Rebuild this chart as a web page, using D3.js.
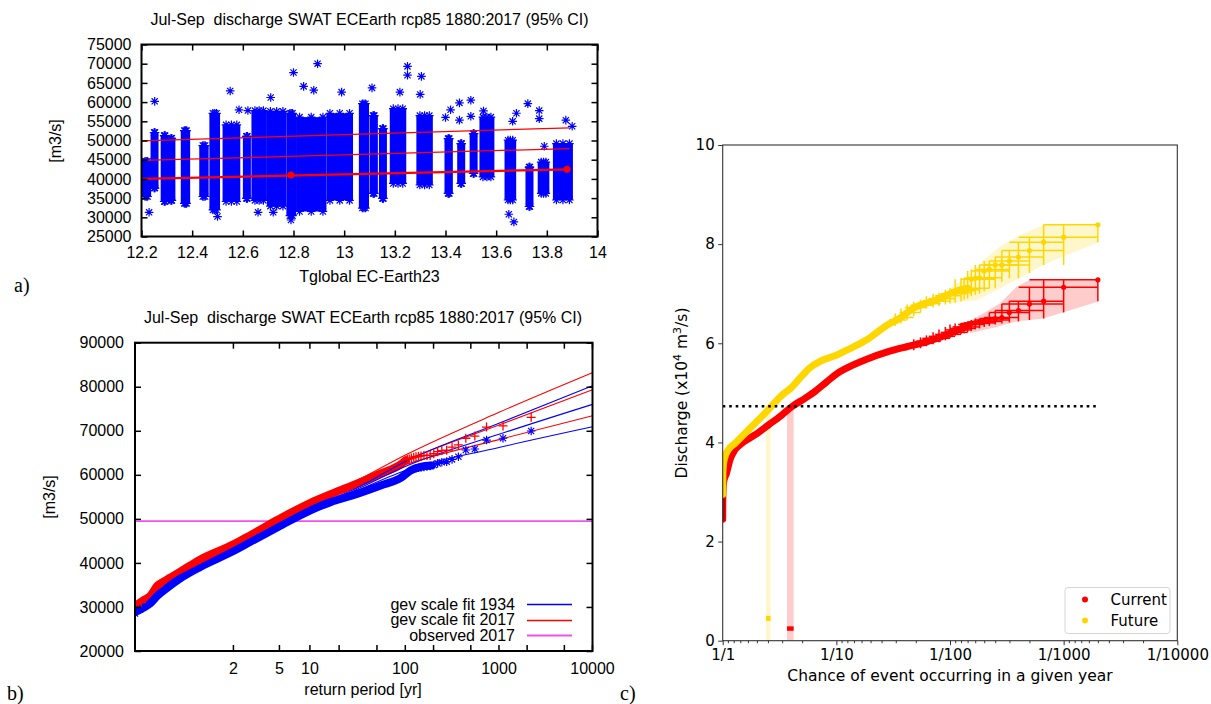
<!DOCTYPE html>
<html>
<head>
<meta charset="utf-8">
<script src="https://cdn.jsdelivr.net/npm/d3@7"></script>
<style>
  body { margin: 0; background: #fff; }
  svg text { font-family: "Liberation Sans", Arial, sans-serif; fill: #000; white-space: pre; }
</style>
</head>
<body>
<svg id="fig" width="1211" height="704"></svg>
<script>
// ---------------- panel a data (Tglobal vs discharge) ----------------
// dense columns of points: [t from, t to, lowest, highest]
const scatterCols = [
  [12.200, 12.238, 34500, 45500], [12.245, 12.258, 36700, 53000],
  [12.283, 12.300, 33200, 52200], [12.310, 12.326, 33500, 51500],
  [12.355, 12.392, 32700, 53500], [12.428, 12.465, 34500, 49600],
  [12.468, 12.510, 31000, 58000], [12.520, 12.590, 33200, 55000],
  [12.602, 12.630, 34000, 52000], [12.634, 12.695, 33500, 58700],
  [12.695, 12.772, 32000, 58500], [12.772, 12.810, 29500, 58000],
  [12.810, 12.930, 30600, 57000], [12.930, 13.035, 33500, 58000],
  [13.058, 13.098, 31500, 60500], [13.100, 13.133, 35300, 57400],
  [13.140, 13.166, 34000, 54000], [13.180, 13.245, 37900, 59200],
  [13.285, 13.350, 37500, 57400], [13.396, 13.429, 35300, 51400],
  [13.449, 13.475, 37900, 50100], [13.501, 13.521, 40500, 52700],
  [13.534, 13.593, 39600, 57000], [13.633, 13.679, 33600, 51000],
  [13.718, 13.745, 31900, 44000], [13.764, 13.810, 35300, 45300],
  [13.824, 13.903, 33600, 50100]
];
// single points outside the dense columns: [t, discharge]
const scatterOutliers = [
  [12.23, 31300], [12.252, 60200], [12.50, 30200], [12.55, 62900], [12.585, 58000],
  [12.62, 57800], [12.71, 61200], [12.66, 31300], [12.72, 31300], [12.80, 67700],
  [12.79, 29300], [12.84, 64100], [12.895, 70000], [12.88, 63100], [12.99, 62600],
  [13.11, 63700], [13.25, 69300], [13.25, 67000], [13.22, 62600], [13.305, 66700],
  [13.30, 62000], [13.40, 56000], [13.42, 58000], [13.455, 59800], [13.455, 55300],
  [13.50, 60500], [13.50, 56300], [13.55, 57700], [13.65, 30800], [13.67, 28800],
  [13.665, 55000], [13.68, 57100], [13.725, 59600], [13.77, 57800], [13.77, 55700],
  [13.79, 48500], [13.875, 55300], [13.90, 53700]
];
const trendUpper = [[12.2, 49900], [13.89, 53300]];
const trendMid = [[12.2, 44800], [13.89, 47900]];
const trendLow = [[12.2, 40000], [13.89, 42500]];
const trendLowDots = [[12.79, 41000], [13.88, 42500]];

// ---------------- panel b data (return period plot) ----------------
const band2017 = [[1.0004, 30200], [1.0017, 31500], [1.0046, 32500], [1.011, 34800], [1.025, 36000],
  [1.083, 38000], [1.264, 40800], [2, 44200], [2.73, 46300], [4.9, 49900], [10, 53600],
  [16.3, 55600], [26.4, 57400], [54.9, 60300], [89.5, 62400], [101, 63300]];
const band1934 = [[1.0004, 28800], [1.0017, 29800], [1.0046, 30800], [1.011, 32500], [1.025, 34000],
  [1.083, 36500], [1.264, 39100], [2, 42700], [2.73, 44800], [4.9, 48200], [10, 51900],
  [16.3, 53800], [26.4, 55200], [54.9, 57600], [89.5, 59300], [114, 61000], [146, 61800], [190, 62100]];
const tail2017 = [[2208, 73050], [1104, 71100], [736, 70850], [552, 68800], [442, 68300], [368, 66800],
  [315, 66300], [276, 65600], [245, 65500], [221, 65250], [201, 64800], [184, 64400], [170, 64400],
  [158, 64400], [147, 64300], [138, 64200], [130, 64100], [123, 64000], [116, 63800], [110, 63600], [105, 63500],
  [1.0004, 30000], [1.0012, 31000]];
const tail1934 = [[2208, 69950], [1104, 68300], [736, 67900], [552, 65870], [442, 65640], [368, 64100],
  [315, 63500], [276, 63000], [245, 62840], [221, 62600], [201, 62230], [184, 62000], [170, 61900],
  [158, 61800], [147, 61700], [138, 61600], [130, 61500], [1.0004, 28500], [1.001, 29400]];
const fitT = [1.05, 2, 10, 30, 100, 1000, 10000];
const fit1934 = [35500, 42500, 52000, 56600, 61900, 69200, 76000];
const fit1934Hi = [35700, 42700, 52400, 56900, 63000, 71700, 80200];
const fit1934Lo = [35300, 42300, 51600, 56300, 61000, 66200, 70900];
const fit2017 = [37000, 44000, 53500, 58300, 63300, 71300, 79300];
const fit2017Hi = [37200, 44200, 54000, 58600, 64500, 74200, 83200];
const fit2017Lo = [36800, 43800, 53000, 58000, 62300, 68000, 73400];
const observed2017 = 49500;
const periodTicks = [2, 5, 10, 20, 50, 100, 200, 500, 1000, 2000, 5000, 10000];
const periodLabels = [2, 5, 10, 100, 1000, 10000];

// ---------------- panel c data (chance of event, x1e4 m3/s) ----------------
const currentCurve = [[1.0, 2.45], [1.003, 2.9], [1.02, 3.2], [1.08, 3.38], [1.16, 3.65], [1.28, 3.85],
  [1.47, 3.98], [1.92, 4.15], [2.52, 4.35], [3.3, 4.55], [4.05, 4.72], [5.3, 4.89], [6.5, 5.03],
  [8.2, 5.22], [10, 5.38], [12.3, 5.5], [18.5, 5.68], [27.7, 5.82], [41.5, 5.93], [62, 6.03],
  [82, 6.12], [110, 6.24], [143, 6.35]];
const futureCurve = [[1.0, 2.95], [1.004, 3.4], [1.03, 3.65], [1.12, 3.85], [1.28, 3.98], [1.68, 4.25],
  [2.36, 4.59], [3.31, 4.95], [4.0, 5.1], [4.8, 5.3], [5.8, 5.5], [7, 5.62], [8.2, 5.69], [10, 5.76],
  [12.3, 5.86], [18.5, 6.07], [27.7, 6.36], [36, 6.5], [47, 6.7], [55, 6.77], [71, 6.85], [100, 7.0],
  [125, 7.08], [143, 7.11]];
// tail points: [return period, value, value low, value high, period low, period high]
const currentTail = [
  [2000, 7.28, 6.85, 7.28, 500, 2000], [1000, 7.13, 6.62, 7.28, 402, 2000],
  [667, 6.85, 6.50, 7.28, 333, 1000], [500, 6.79, 6.47, 7.13, 286, 1000],
  [400, 6.66, 6.44, 6.85, 250, 667], [333, 6.62, 6.42, 6.85, 222, 500],
  [286, 6.52, 6.40, 6.79, 200, 400], [250, 6.50, 6.38, 6.66, 182, 333],
  [222, 6.47, 6.35, 6.62, 167, 333], [200, 6.44, 6.33, 6.52, 154, 286],
  [182, 6.43, 6.30, 6.50, 143, 250], [167, 6.41, 6.28, 6.50, 133, 250],
  [154, 6.40, 6.25, 6.47, 125, 222], [143, 6.38, 6.22, 6.44, 118, 200],
  [133, 6.33, 6.20, 6.42, 105, 182], [125, 6.30, 6.18, 6.41, 100, 167],
  [111, 6.27, 6.15, 6.40, 91, 154], [100, 6.22, 6.10, 6.38, 83, 143],
  [91, 6.18, 6.06, 6.33, 74, 125], [80, 6.14, 6.02, 6.28, 65, 111],
  [71, 6.10, 5.98, 6.22, 57, 100], [62, 6.04, 5.94, 6.16, 50, 83],
  [55, 6.00, 5.90, 6.12, 45, 71], [48, 5.97, 5.86, 6.08, 40, 62]];
const futureTail = [
  [2000, 8.39, 8.04, 8.39, 667, 2000], [1000, 8.14, 7.58, 8.39, 402, 2000],
  [667, 8.04, 7.58, 8.39, 333, 1000], [500, 7.87, 7.42, 8.14, 287, 1000],
  [400, 7.74, 7.31, 8.04, 250, 667], [333, 7.66, 7.31, 7.87, 222, 500],
  [286, 7.58, 7.24, 7.87, 199, 500], [250, 7.58, 7.11, 7.74, 181, 400],
  [222, 7.49, 7.11, 7.66, 167, 333], [200, 7.46, 7.05, 7.66, 153, 333],
  [182, 7.32, 7.00, 7.58, 140, 286], [167, 7.31, 6.98, 7.58, 133, 250],
  [154, 7.29, 6.95, 7.49, 125, 250], [143, 7.11, 6.90, 7.46, 118, 222],
  [133, 7.08, 6.88, 7.32, 105, 182], [125, 7.06, 6.85, 7.31, 100, 167],
  [111, 7.02, 6.82, 7.29, 91, 154], [100, 7.00, 6.80, 7.11, 83, 143],
  [91, 6.96, 6.78, 7.08, 74, 125], [80, 6.90, 6.75, 7.02, 65, 111],
  [71, 6.85, 6.72, 7.00, 57, 100], [62, 6.80, 6.70, 6.95, 50, 83],
  [55, 6.77, 6.62, 6.88, 45, 71], [48, 6.72, 6.55, 6.84, 40, 62],
  [42, 6.62, 6.48, 6.78, 36, 55], [37, 6.52, 6.40, 6.70, 32, 48],
  [33, 6.47, 6.35, 6.60, 29, 42]];
const currentCIUpper = [[150, 6.45], [209, 6.64], [275, 6.81], [386, 7.14], [506, 7.28], [2000, 7.28]];
const currentCILower = [[150, 6.2], [257, 6.33], [386, 6.44], [662, 6.50], [2000, 6.84]];
const futureCIUpper = [[100, 7.1], [140, 7.34], [197, 7.68], [275, 7.95], [413, 8.18], [662, 8.39], [2000, 8.39]];
const futureCILower = [[100, 6.8], [171, 6.87], [257, 7.07], [386, 7.28], [662, 7.58], [993, 7.75], [2000, 8.03]];
const observedValue = 4.73;
const observedEnd = 2000;
const currentObs = {period: [3.68, 4.21], mark: [0.20, 0.29]};
const futureObs = {period: [2.40, 2.64], mark: [0.40, 0.50]};
const chanceTicks = [1, 0.1, 0.01, 0.001, 0.0001];
const dischargeTicks = [0, 2, 4, 6, 8, 10];

const svg = d3.select("#fig");
const defs = svg.append("defs");
const BLUE = "#0000ff", RED = "#ff0000", GOLD = "#ffd700", VIOLET = "#f050f0";
const GP_FONT = "'Liberation Sans', Arial, sans-serif";
const MPL_FONT = "'DejaVu Sans', sans-serif";

function starPath(r) {
  const k = r * 0.72;
  return `M${-r},0H${r}M0,${-r}V${r}M${-k},${-k}L${k},${k}M${-k},${k}L${k},${-k}`;
}
function plusPath(r) { return `M${-r},0H${r}M0,${-r}V${r}`; }

// =====================================================================
// panel a
// =====================================================================
const xA = d3.scaleLinear().domain([12.2, 14]).range([141.5, 597.5]);
const yA = d3.scaleLinear().domain([25000, 75000]).range([236.5, 44.5]);
const gA = svg.append("g");
defs.append("clipPath").attr("id", "clipA").append("rect")
  .attr("x", 141.5).attr("y", 44.5).attr("width", 456).attr("height", 192);

const pA = gA.append("g").attr("clip-path", "url(#clipA)");
const pad = 3.5;
const colBoxes = scatterCols.map(d => {
  let x0 = xA(d[0]), x1 = xA(d[1]);
  if (x1 - x0 < 8) { const m = (x0 + x1) / 2; x0 = m - 4; x1 = m + 4; }
  return {x0, x1, y0: yA(d[3]) + pad, y1: yA(d[2]) - pad};
});
pA.selectAll("rect.col").data(colBoxes).join("rect")
  .attr("class", "col")
  .attr("x", d => d.x0).attr("width", d => d.x1 - d.x0)
  .attr("y", d => d.y0).attr("height", d => d.y1 - d.y0)
  .attr("fill", BLUE);
const edgeStars = colBoxes.flatMap(b => {
  const a = b.x0 + pad, c = b.x1 - pad, xm = (b.x0 + b.x1) / 2;
  return [[a, b.y0], [xm, b.y0], [c, b.y0], [a, b.y1], [xm, b.y1], [c, b.y1]];
});
pA.selectAll("path.es").data(edgeStars).join("path")
  .attr("class", "es")
  .attr("transform", d => `translate(${d[0]},${d[1]})`)
  .attr("d", starPath(4.3)).attr("stroke", BLUE).attr("stroke-width", 1.2).attr("fill", "none");
pA.selectAll("path.os").data(scatterOutliers).join("path")
  .attr("class", "os")
  .attr("transform", d => `translate(${xA(d[0])},${yA(d[1])})`)
  .attr("d", starPath(4.3)).attr("stroke", BLUE).attr("stroke-width", 1.2).attr("fill", "none");

const lineA = d3.line().x(d => xA(d[0])).y(d => yA(d[1]));
[[trendUpper, 1.2], [trendMid, 1.2], [trendLow, 2.2]].forEach(([dat, w]) => {
  pA.append("path").attr("d", lineA(dat)).attr("stroke", RED).attr("stroke-width", w).attr("fill", "none");
});
pA.selectAll("circle.td").data(trendLowDots).join("circle")
  .attr("cx", d => xA(d[0])).attr("cy", d => yA(d[1])).attr("r", 3.5).attr("fill", RED);

// axes a (gnuplot style, ticks inward)
const axA = gA.append("g");
axA.append("g").attr("transform", "translate(0,236.5)")
  .call(d3.axisBottom(xA).ticks(9).tickSizeInner(-6).tickSizeOuter(0).tickPadding(10).tickFormat(d => String(+d.toFixed(1))));
axA.append("g").attr("transform", "translate(0,44.5)")
  .call(d3.axisTop(xA).ticks(9).tickSizeInner(-6).tickSizeOuter(0).tickFormat(""));
axA.append("g").attr("transform", "translate(141.5,0)")
  .call(d3.axisLeft(yA).ticks(10).tickSizeInner(-6).tickSizeOuter(0).tickPadding(10).tickFormat(d3.format("d")));
axA.append("g").attr("transform", "translate(597.5,0)")
  .call(d3.axisRight(yA).ticks(10).tickSizeInner(-6).tickSizeOuter(0).tickFormat(""));
axA.selectAll(".domain").remove();
axA.selectAll(".tick line").attr("stroke", "#000").attr("stroke-width", 1.5);
axA.selectAll("text").style("font-family", GP_FONT).style("font-size", "16px").attr("fill", "#000");
gA.append("rect").attr("x", 141.5).attr("y", 44.5).attr("width", 456).attr("height", 192)
  .attr("fill", "none").attr("stroke", "#000").attr("stroke-width", 2);
gA.append("text").attr("x", 369.5).attr("y", 25).attr("text-anchor", "middle").style("font-size", "16px")
  .text("Jul-Sep  discharge SWAT ECEarth rcp85 1880:2017 (95% CI)");
gA.append("text").attr("x", 369.5).attr("y", 282).attr("text-anchor", "middle").style("font-size", "16px")
  .text("Tglobal EC-Earth23");
gA.append("text").attr("transform", "translate(61,141) rotate(-90)").attr("text-anchor", "middle")
  .style("font-size", "16px").text("[m3/s]");

// =====================================================================
// panel b
// =====================================================================
const gumbel = T => -Math.log(-Math.log(1 - 1 / T));
const xB = d3.scaleLinear().domain([gumbel(1.0004), gumbel(10000)]).range([135, 592.5]);
const yB = d3.scaleLinear().domain([20000, 90000]).range([651, 342.7]);
const px = T => xB(gumbel(T));
const gB = svg.append("g");
defs.append("clipPath").attr("id", "clipB").append("rect")
  .attr("x", 135).attr("y", 342.7).attr("width", 457.5).attr("height", 308.3);
const pB = gB.append("g").attr("clip-path", "url(#clipB)");

const lineB = d3.line().x(d => px(d[0])).y(d => yB(d[1])).curve(d3.curveMonotoneX);
pB.append("line").attr("x1", 135).attr("x2", 592.5).attr("y1", yB(observed2017)).attr("y2", yB(observed2017))
  .attr("stroke", VIOLET).attr("stroke-width", 1.8);
pB.append("path").attr("d", lineB(band2017)).attr("stroke", RED).attr("stroke-width", 8)
  .attr("stroke-linejoin", "round").attr("stroke-linecap", "round").attr("fill", "none");
pB.append("path").attr("d", lineB(band1934)).attr("stroke", BLUE).attr("stroke-width", 8)
  .attr("stroke-linejoin", "round").attr("stroke-linecap", "round").attr("fill", "none");
const fitSets = [[fit2017, RED], [fit2017Hi, RED], [fit2017Lo, RED], [fit1934, BLUE], [fit1934Hi, BLUE], [fit1934Lo, BLUE]];
fitSets.forEach(([vals, c]) => {
  pB.append("path").attr("d", lineB(fitT.map((t, i) => [t, vals[i]])))
    .attr("stroke", c).attr("stroke-width", 1.1).attr("fill", "none");
});
pB.selectAll("path.tp").data(tail2017).join("path").attr("class", "tp")
  .attr("transform", d => `translate(${px(d[0])},${yB(d[1])})`)
  .attr("d", plusPath(4.5)).attr("stroke", RED).attr("stroke-width", 1.3);
pB.selectAll("path.tb").data(tail1934).join("path").attr("class", "tb")
  .attr("transform", d => `translate(${px(d[0])},${yB(d[1])})`)
  .attr("d", starPath(4.3)).attr("stroke", BLUE).attr("stroke-width", 1.2).attr("fill", "none");

const axB = gB.append("g");
axB.append("g").attr("transform", "translate(135,0)")
  .call(d3.axisLeft(yB).ticks(7).tickSizeInner(-6).tickSizeOuter(0).tickPadding(11).tickFormat(d3.format("d")));
axB.append("g").attr("transform", "translate(592.5,0)")
  .call(d3.axisRight(yB).ticks(7).tickSizeInner(-6).tickSizeOuter(0).tickFormat(""));
axB.selectAll(".domain").remove();
const xTicksB = axB.append("g");
xTicksB.selectAll("line.bt").data(periodTicks).join("line").attr("class", "bt")
  .attr("x1", d => px(d)).attr("x2", d => px(d)).attr("y1", 651).attr("y2", 645);
xTicksB.selectAll("line.tt").data(periodTicks).join("line").attr("class", "tt")
  .attr("x1", d => px(d)).attr("x2", d => px(d)).attr("y1", 342.7).attr("y2", 348.7);
xTicksB.selectAll("text").data(periodLabels).join("text")
  .attr("x", d => px(d)).attr("y", 674).attr("text-anchor", "middle").text(d => d);
axB.selectAll("line").attr("stroke", "#000").attr("stroke-width", 1.5);
axB.selectAll("text").style("font-family", GP_FONT).style("font-size", "16px").attr("fill", "#000");
gB.append("rect").attr("x", 135).attr("y", 342.7).attr("width", 457.5).attr("height", 308.3)
  .attr("fill", "none").attr("stroke", "#000").attr("stroke-width", 2);

const legB = [["gev scale fit 1934", BLUE, 1.5], ["gev scale fit 2017", RED, 1.5], ["observed 2017", VIOLET, 2]];
const legBox = gB.append("g");
legB.forEach((d, i) => {
  const y = 604 + i * 15.5;
  legBox.append("text").attr("x", 515).attr("y", y + 5.5).attr("text-anchor", "end").style("font-size", "16px").text(d[0]);
  legBox.append("path").attr("d", `M527,${Math.round(y) + 0.5}H572`).attr("stroke", d[1]).attr("stroke-width", d[2]);
});
gB.append("text").attr("x", 363).attr("y", 323).attr("text-anchor", "middle").style("font-size", "16px")
  .text("Jul-Sep  discharge SWAT ECEarth rcp85 1880:2017 (95% CI)");
gB.append("text").attr("x", 363).attr("y", 695).attr("text-anchor", "middle").style("font-size", "16px")
  .text("return period [yr]");
gB.append("text").attr("transform", "translate(55,497) rotate(-90)").attr("text-anchor", "middle")
  .style("font-size", "16px").text("[m3/s]");

// =====================================================================
// panel c (matplotlib style)
// =====================================================================
const xC = d3.scaleLog().domain([1, 1e-4]).range([722.7, 1177.3]);
const yC = d3.scaleLinear().domain([0, 10]).range([640.7, 145]);
const cx = T => xC(1 / T);
const gC = svg.append("g");
defs.append("clipPath").attr("id", "clipC").append("rect")
  .attr("x", 722.7).attr("y", 145).attr("width", 454.6).attr("height", 495.7);
const pC = gC.append("g").attr("clip-path", "url(#clipC)");

const areaC = (up, lo) => {
  const pts = up.map(d => [cx(d[0]), yC(d[1])]).concat(lo.slice().reverse().map(d => [cx(d[0]), yC(d[1])]));
  return "M" + pts.map(p => p.join(",")).join("L") + "Z";
};
pC.append("path").attr("d", areaC(futureCIUpper, futureCILower)).attr("fill", GOLD).attr("fill-opacity", 0.2);
pC.append("path").attr("d", areaC(currentCIUpper, currentCILower)).attr("fill", RED).attr("fill-opacity", 0.2);

// observed event bars
[[futureObs, GOLD], [currentObs, RED]].forEach(([o, c]) => {
  pC.append("rect").attr("x", cx(o.period[0])).attr("width", cx(o.period[1]) - cx(o.period[0]))
    .attr("y", yC(observedValue)).attr("height", yC(0) - yC(observedValue))
    .attr("fill", c).attr("fill-opacity", 0.2);
  pC.append("rect").attr("x", cx(o.period[0])).attr("width", cx(o.period[1]) - cx(o.period[0]))
    .attr("y", yC(o.mark[1])).attr("height", yC(o.mark[0]) - yC(o.mark[1]))
    .attr("fill", c);
});

const lineC = d3.line().x(d => cx(d[0])).y(d => yC(d[1])).curve(d3.curveMonotoneX);
pC.append("path").attr("d", lineC(currentCurve)).attr("stroke", RED).attr("stroke-width", 7)
  .attr("stroke-linejoin", "round").attr("stroke-linecap", "round").attr("fill", "none");
pC.append("path").attr("d", lineC(currentCurve.slice(0, 2))).attr("stroke", "#b00000").attr("stroke-width", 4)
  .attr("stroke-linecap", "round").attr("fill", "none");
pC.append("path").attr("d", lineC(futureCurve)).attr("stroke", GOLD).attr("stroke-width", 7)
  .attr("stroke-linejoin", "round").attr("stroke-linecap", "round").attr("fill", "none");

function drawTail(data, c) {
  const g = pC.append("g").attr("stroke", c).attr("stroke-width", 1.5);
  g.selectAll("line.h").data(data).join("line").attr("class", "h")
    .attr("x1", d => cx(d[4])).attr("x2", d => cx(d[5])).attr("y1", d => yC(d[1])).attr("y2", d => yC(d[1]));
  g.selectAll("line.v").data(data).join("line").attr("class", "v")
    .attr("x1", d => cx(d[0])).attr("x2", d => cx(d[0])).attr("y1", d => yC(d[2])).attr("y2", d => yC(d[3]));
  pC.append("g").selectAll("circle").data(data).join("circle")
    .attr("cx", d => cx(d[0])).attr("cy", d => yC(d[1])).attr("r", 2.6).attr("fill", c);
}
drawTail(futureTail, GOLD);
drawTail(currentTail, RED);

pC.append("line").attr("x1", cx(1)).attr("x2", cx(observedEnd)).attr("y1", yC(observedValue)).attr("y2", yC(observedValue))
  .attr("stroke", "#000").attr("stroke-width", 2.6).attr("stroke-dasharray", "2.6,3.9");

// axes c
const axC = gC.append("g");
axC.append("g").attr("transform", "translate(0,640.7)")
  .call(d3.axisBottom(xC).tickValues(chanceTicks).tickSize(4.5).tickPadding(4.5).tickFormat(d => "1/" + Math.round(1 / d)));
const minorC = [];
[1, 0.1, 0.01, 0.001].forEach(dec => { for (let m = 2; m <= 9; m++) minorC.push(m * dec / 10); });
axC.append("g").attr("transform", "translate(0,640.7)")
  .call(d3.axisBottom(xC).tickValues(minorC).tickSize(2.5).tickFormat(""));
axC.append("g").attr("transform", "translate(722.7,0)")
  .call(d3.axisLeft(yC).tickValues(dischargeTicks).tickSize(4.5).tickPadding(3.5));
axC.selectAll(".domain").remove();
axC.selectAll(".tick line").attr("stroke", "#333").attr("stroke-width", 1);
axC.selectAll("text").style("font-family", MPL_FONT).style("font-size", "15px").attr("fill", "#000");
gC.append("rect").attr("x", 722.7).attr("y", 145).attr("width", 454.6).attr("height", 495.7)
  .attr("fill", "none").attr("stroke", "#333").attr("stroke-width", 1.1);

const ylab = gC.append("text").attr("transform", "translate(687,393) rotate(-90)").attr("text-anchor", "middle")
  .style("font-family", MPL_FONT).style("font-size", "15.5px");
ylab.append("tspan").text("Discharge (x10");
ylab.append("tspan").attr("dy", -6).style("font-size", "11px").text("4");
ylab.append("tspan").attr("dy", 6).text(" m");
ylab.append("tspan").attr("dy", -6).style("font-size", "11px").text("3");
ylab.append("tspan").attr("dy", 6).text("/s)");
gC.append("text").attr("x", 950).attr("y", 681).attr("text-anchor", "middle")
  .style("font-family", MPL_FONT).style("font-size", "15.5px")
  .text("Chance of event occurring in a given year");

// legend c
const legC = gC.append("g");
legC.append("rect").attr("x", 1065).attr("y", 587.5).attr("width", 105).attr("height", 46).attr("rx", 3)
  .attr("fill", "#fff").attr("fill-opacity", 0.8).attr("stroke", "#d6d6d6");
[["Current", RED], ["Future", GOLD]].forEach((d, i) => {
  const y = 599.5 + i * 21;
  legC.append("circle").attr("cx", 1085).attr("cy", y).attr("r", 3).attr("fill", d[1]);
  legC.append("text").attr("x", 1110.5).attr("y", y + 5.5)
    .style("font-family", MPL_FONT).style("font-size", "15px").text(d[0]);
});

// panel letters
const letters = [["a)", 14, 292], ["b)", 7, 700], ["c)", 620, 700]];
svg.selectAll("text.letter").data(letters).join("text").attr("class", "letter")
  .attr("x", d => d[1]).attr("y", d => d[2])
  .style("font-family", "'Liberation Serif', 'DejaVu Serif', serif").style("font-size", "20px").text(d => d[0]);
</script>
</body>
</html>
